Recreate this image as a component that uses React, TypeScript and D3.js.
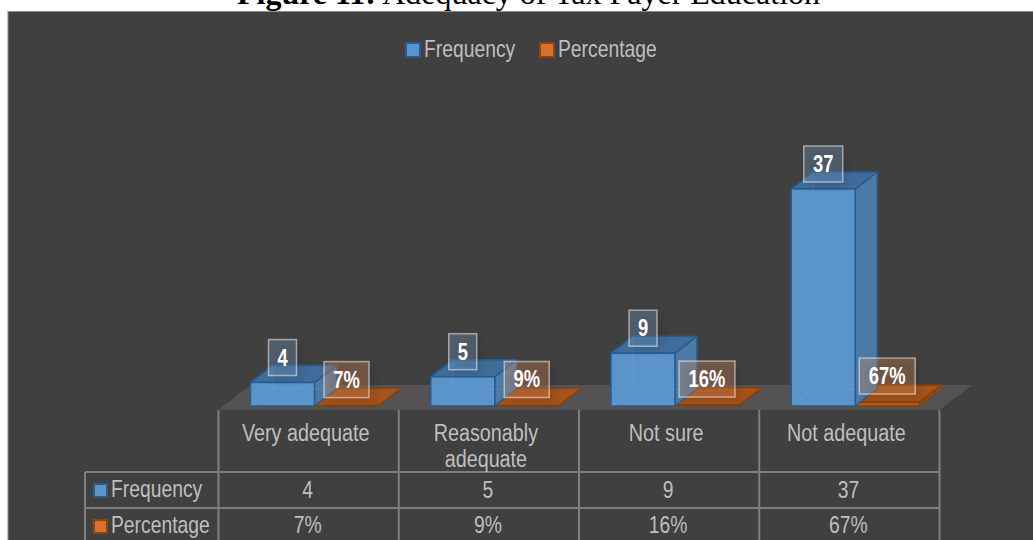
import React from "react";
import * as d3 from "d3";

const categoryNames = ["Very adequate", "Reasonably adequate", "Not sure", "Not adequate"];
const categoryLines = [["Very adequate"], ["Reasonably", "adequate"], ["Not sure"], ["Not adequate"]];
const frequencyValues = [4, 5, 9, 37];
const percentageValues = [7, 9, 16, 67];
const seriesNames = ["Frequency", "Percentage"];

const WIDTH = 1033;
const HEIGHT = 540;
const DEPTH_X = 22;
const DEPTH_Y = 17;
const NARROW = 0.84;

const blue = { front: "#5a94c9", side: "#4a7aa6", top: "#3f6d99", inner: "#4f87bb", edge: "#2a5b8e", label: "rgba(130,170,215,0.3)" };
const orange = { front: "#b65a1c", side: "#8f4a17", top: "#a5521b", inner: "#9c4f1a", edge: "#84420f", label: "rgba(235,150,95,0.3)" };
const gridColor = "#7f7f7f";
const textColor = "#bfbfbf";
const sans = "'Liberation Sans', Arial, sans-serif";

const x = d3.scaleBand<string>().domain(categoryNames).range([218.5, 939.5]);
const inner = d3.scaleBand<string>().domain(seriesNames).range([32, 160]);
const y = d3.scaleLinear().domain([0, 37]).range([406, 189]);

function poly(points: [number, number][]) {
  return d3.line()(points) + "Z";
}

function Txt({ x: tx, y: ty, children, size = 23, weight = 400, fill = textColor, anchor = "middle", scale = NARROW }: any) {
  return (
    <text
      transform={`translate(${tx},${ty}) scale(${scale},1)`}
      textAnchor={anchor}
      fontFamily={sans}
      fontSize={size}
      fontWeight={weight}
      fill={fill}
    >
      {children}
    </text>
  );
}

function Box({ left, value, c }: { left: number; value: number; c: typeof blue }) {
  const w = inner.bandwidth();
  const top = y(value);
  const base = y(0);
  const right = left + w;
  const dx = DEPTH_X;
  const dy = DEPTH_Y;
  return (
    <g stroke={c.edge} strokeWidth={1.5} strokeLinejoin="round">
      <path d={poly([[left, base], [right, base], [right + dx, base - dy], [left + dx, base - dy]])} fill={c.inner} stroke="none" />
      <path d={poly([[right, top], [right + dx, top - dy], [right + dx, base - dy], [right, base]])} fill={c.side} />
      <path d={poly([[left, top], [right, top], [right + dx, top - dy], [left + dx, top - dy]])} fill={c.top} />
      <path d={poly([[left, top], [right, top], [right, base], [left, base]])} fill={c.front} />
      <path
        d={`M${left},${base}L${left + dx},${base - dy}V${top - dy}M${left + dx},${base - dy}H${right + dx}`}
        fill="none"
        stroke="#ffffff"
        strokeOpacity={0.05}
      />
    </g>
  );
}

function ValueTag({ cx, bottom, text, fill }: { cx: number; bottom: number; text: string; fill: string }) {
  const digits = text.replace("%", "").length;
  const w = 17 + digits * 11 + (text.includes("%") ? 17 : 0);
  const h = 36;
  return (
    <g>
      <rect x={cx - w / 2 + 4} y={bottom - h + 4} width={w} height={h} fill="#000" opacity={0.12} filter="url(#tagShadow)" />
      <rect x={cx - w / 2} y={bottom - h} width={w} height={h} fill={fill} stroke="#ffffff" strokeOpacity={0.5} strokeWidth={1.5} />
      <Txt x={cx} y={bottom - 10} weight={700} fill="#ffffff" scale={0.8}>{text}</Txt>
    </g>
  );
}

export default function App() {
  const rowTop = 472;
  const rowMid = 508;
  const tableLeft = 85;
  const tableRight = 939.5;
  const gridTop = 410;
  const verticals = [...categoryNames.map((n) => x(n) as number), tableRight];

  return (
    <svg width={WIDTH} height={HEIGHT} style={{ position: "fixed", left: 0, top: 0, background: "#fff" }}>
      <defs>
        <filter id="tagShadow" x="-40%" y="-40%" width="180%" height="180%">
          <feGaussianBlur stdDeviation="5" />
        </filter>
      </defs>

      <text x={528.5} y={4} textAnchor="middle" fontFamily="'Liberation Serif', serif" fontSize={32} fill="#000">
        <tspan fontWeight={700}>Figure 11:</tspan> Adequacy of Tax Payer Education
      </text>

      <rect x={8} y={11.5} width={WIDTH} height={HEIGHT} fill="#404040" stroke="#8a8a8a" strokeWidth={1} />

      {/* chart legend */}
      {seriesNames.map((name, i) => {
        const c = i === 0 ? { f: "#5a94c9", s: "#2a5b8e" } : { f: "#d8702f", s: "#8a4510" };
        const kx = i === 0 ? 406 : 540;
        return (
          <g key={name}>
            <rect x={kx} y={43} width={14} height={14} fill={c.f} stroke={c.s} strokeWidth={2} />
            <Txt x={kx + 18} y={57} anchor="start">{name}</Txt>
          </g>
        );
      })}

      {/* 3D floor */}
      <path d={poly([[218.5, 410], [939.5, 410], [972, 385], [250.5, 385]])} fill="#545252" />

      {categoryNames.map((name, i) => {
        const bx = x(name) as number;
        const fl = bx + (inner("Frequency") as number);
        const pl = bx + (inner("Percentage") as number);
        return (
          <g key={name}>
            <Box left={pl} value={percentageValues[i] / 100} c={orange} />
            <Box left={fl} value={frequencyValues[i]} c={blue} />
          </g>
        );
      })}
      {categoryNames.map((name, i) => {
        const bx = x(name) as number;
        const w = inner.bandwidth();
        const fl = bx + (inner("Frequency") as number);
        const pl = bx + (inner("Percentage") as number);
        return (
          <g key={name}>
            <ValueTag cx={fl + w / 2} bottom={y(frequencyValues[i]) - 7} text={String(frequencyValues[i])} fill={blue.label} />
            <ValueTag cx={pl + w / 2} bottom={y(percentageValues[i] / 100) - 8} text={`${percentageValues[i]}%`} fill={orange.label} />
          </g>
        );
      })}

      {/* data table */}
      <g stroke={gridColor} strokeWidth={2} fill="none">
        {verticals.map((vx) => (
          <line key={vx} x1={vx} x2={vx} y1={gridTop} y2={HEIGHT} />
        ))}
        <line x1={tableLeft} x2={tableLeft} y1={rowTop} y2={HEIGHT} />
        <line x1={tableLeft} x2={tableRight} y1={rowTop} y2={rowTop} />
        <line x1={tableLeft} x2={tableRight} y1={rowMid} y2={rowMid} />
      </g>

      {categoryNames.map((name, i) => {
        const cx = (x(name) as number) + x.bandwidth() / 2;
        return (
          <g key={name}>
            {categoryLines[i].map((line, j) => (
              <Txt key={line} x={cx - 3} y={440.5 + j * 26.5} scale={0.86}>{line}</Txt>
            ))}
            <Txt x={cx - 1} y={498}>{frequencyValues[i]}</Txt>
            <Txt x={cx - 1} y={533}>{percentageValues[i]}%</Txt>
          </g>
        );
      })}

      {seriesNames.map((name, i) => {
        const c = i === 0 ? { f: "#5a94c9", s: "#2a5b8e" } : { f: "#d8702f", s: "#8a4510" };
        const ky = i === 0 ? 484 : 520;
        return (
          <g key={name}>
            <rect x={94} y={ky} width={13} height={13} fill={c.f} stroke={c.s} strokeWidth={2} />
            <Txt x={111} y={ky + 13} anchor="start">{name}</Txt>
          </g>
        );
      })}
    </svg>
  );
}
